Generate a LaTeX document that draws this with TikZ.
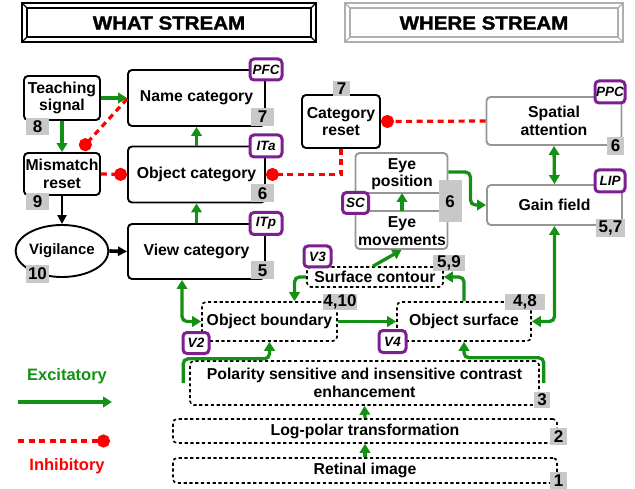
\documentclass[tikz,border=0pt]{standalone}
\usepackage{fontspec}
\setmainfont{Liberation Sans}
\newfontfamily\hdrfont[FakeBold=1.5]{Liberation Sans Bold}
\usetikzlibrary{arrows.meta,shapes.geometric}
\definecolor{grn}{RGB}{20,145,20}
\definecolor{purp}{RGB}{125,30,145}
\definecolor{numgray}{RGB}{200,200,200}
\definecolor{bordgray}{RGB}{150,150,150}
\definecolor{hdrgray}{RGB}{175,175,175}
\begin{document}
\begin{tikzpicture}[x=1pt,y=-1pt,
  box/.style={draw, line width=1.9pt, rounded corners=4pt, align=center, inner sep=0pt,
    font=\bfseries\fontsize{15.8}{17.5}\selectfont},
  gbox/.style={box, draw=bordgray},
  dbox/.style={box, dash pattern=on 3.2pt off 2.6pt, line width=1.6pt},
  badge/.style={draw=purp, line width=3pt, rounded corners=4pt, fill=white, inner sep=0pt,
    font=\bfseries\itshape\fontsize{13.5}{13.5}\selectfont},
  num/.style={fill=numgray, inner sep=0pt, font=\bfseries\fontsize{17}{17}\selectfont},
  exc/.style={draw=grn, line width=3.3pt, -{Triangle[length=9pt,width=10.5pt]}, rounded corners=5pt},
  excb/.style={exc, {Triangle[length=9pt,width=10.5pt]}-{Triangle[length=9pt,width=10.5pt]}},
  inh/.style={draw=red, line width=3.2pt, dash pattern=on 6pt off 4.5pt, -{Circle[length=13pt]}},
  blk/.style={draw=black, line width=2.6pt, -{Triangle[length=9pt,width=9pt]}},
  hdr/.style={font=\hdrfont\fontsize{19}{19}\selectfont}
]
\useasboundingbox (0,0) rectangle (635,489);

% headers
\draw[line width=1.4pt] (22,3) rectangle (316,42);
\draw[line width=1.2pt] (27,8) rectangle (311,37);
\draw[line width=1.2pt] (22,3) -- (27,8) (316,3) -- (311,8) (22,42) -- (27,37) (316,42) -- (311,37);
\node[hdr] (what) at (169,23) {\scalebox{1.08}[1]{WHAT STREAM}};
\draw[hdrgray, line width=1.4pt] (345,3) rectangle (623,42);
\draw[hdrgray, line width=1.2pt] (350,8) rectangle (618,37);
\draw[hdrgray, line width=1.2pt] (345,3) -- (350,8) (623,3) -- (618,8) (345,42) -- (350,37) (623,42) -- (618,37);
\node[hdr] (where) at (484,23) {\scalebox{1.08}[1]{WHERE STREAM}};

% what stream boxes
\node[box, minimum width=76pt, minimum height=44pt] (teach) at (62,98) {Teaching\\signal};
\node[box, minimum width=137pt, minimum height=56pt] (name) at (196.5,98) {Name category};
\node[box, minimum width=76pt, minimum height=42pt] (mism) at (62,174) {Mismatch\\reset};
\node[draw, ellipse, line width=1.9pt, minimum width=75pt, minimum height=52pt, inner sep=0pt,
  font=\bfseries\fontsize{15}{17.5}\selectfont] (vig) at (62,251) {Vigilance};
\node[box, minimum width=137pt, minimum height=56pt] (obj) at (196.5,174.5) {Object category};
\node[box, minimum width=137pt, minimum height=55pt] (view) at (196.5,251.5) {View category};
\node[box, minimum width=78pt, minimum height=53pt] (reset) at (341,121.5) {Category\\reset};

% where stream boxes
\node[gbox, minimum width=135pt, minimum height=48pt] (spat) at (554,121) {Spatial\\attention};
\node[gbox, minimum width=135pt, minimum height=40pt] (gain) at (554.5,205) {Gain field};
\node[gbox, minimum width=92pt, minimum height=96pt] (eye) at (401.5,201) {};
\node[font=\bfseries\fontsize{15.8}{17.5}\selectfont, align=center, inner sep=0pt] (eyepos) at (402,174) {Eye\\position};
\node[font=\bfseries\fontsize{15.8}{17.5}\selectfont, align=center, inner sep=0pt] (eyemov) at (402,231) {Eye\\movements};
\draw[bordgray, line width=1.9pt] (368,193) -- (440,193) (368,211) -- (440,211);

% low-level boxes
\node[dbox, minimum width=136pt, minimum height=20pt] (cont) at (375,277) {Surface contour};
\node[dbox, minimum width=135pt, minimum height=39pt] (bound) at (269.5,321.5) {Object boundary};
\node[dbox, minimum width=134pt, minimum height=39pt] (surf) at (464,321.5) {Object surface};
\node[dbox, minimum width=349pt, minimum height=44pt] (polar) at (364.5,383) {Polarity sensitive and insensitive contrast\\enhancement};
\node[dbox, minimum width=384pt, minimum height=24pt] (logp) at (365,431) {Log-polar transformation};
\node[dbox, minimum width=384pt, minimum height=25pt] (ret) at (365,470.5) {Retinal image};

% excitatory connections
\draw[exc] (teach.east) -- (name.west);
\draw[exc] (teach.south) -- (mism.north);
\draw[exc] (obj.north) -- (name.south);
\draw[exc] (view.north) -- (obj.south);
\draw[excb] (spat.south) -- (gain.north);
\draw[exc] ([yshift=-20pt]eye.north east) -- ++(22,0) |- (gain.west);
\coordinate (eb) at (402,211);
\coordinate (et) at (402,193);
\draw[exc] (eb) -- (et);
\draw[exc] ([xshift=-2pt]cont.north) -- (eye.south);
\draw[exc] (cont.west) -| ([xshift=25pt]bound.north);
\draw[exc] (surf.north) |- (cont.east);
\draw[exc] (bound.east) -- (surf.west);
\draw[excb] ([xshift=-14.5pt]view.south) |- (bound.west);
\draw[excb] (gain.south) |- (surf.east);
\draw[exc] ([xshift=-6pt]polar.west) |- ([yshift=-17pt]bound.south) -- (bound.south);
\draw[exc] ([xshift=4pt]polar.east) |- ([yshift=-16pt]surf.south) -- (surf.south);
\draw[exc] (logp.north) -- (polar.south);
\draw[exc] (ret.north) -- (logp.south);

% black connections
\draw[blk] (mism.south) -- (vig.north);
\draw[blk, line width=3.6pt] (vig.east) -- (view.west);

% inhibitory connections
\coordinate (inhend) at (81,149.5);
\draw[inh] ([yshift=-1pt]name.west) -- (inhend);
\draw[inh] (mism.east) -- (obj.west);
\draw[inh] (reset.south) |- (obj.east);
\draw[inh] (spat.west) -- (reset.east);

% badges
\node[badge, minimum width=32pt, minimum height=21pt] (pfc) at (266,69.5) {PFC};
\node[badge, minimum width=32pt, minimum height=22pt] (ita) at (266,146) {ITa};
\node[badge, minimum width=32pt, minimum height=22pt] (itp) at (266,223.5) {ITp};
\node[badge, minimum width=30pt, minimum height=22pt] (ppc) at (610,92) {PPC};
\node[badge, minimum width=30pt, minimum height=22pt] (lip) at (610,181) {LIP};
\node[badge, minimum width=26pt, minimum height=21pt] (sc) at (355.5,203) {SC};
\node[badge, minimum width=27pt, minimum height=21pt] (v3) at (317.5,256.5) {V3};
\node[badge, minimum width=26pt, minimum height=21pt] (v2) at (196,343) {V2};
\node[badge, minimum width=27pt, minimum height=22pt] (v4) at (392.5,341.5) {V4};

% number labels
\node[num, minimum width=23pt, minimum height=17pt] (n8) at (37.5,126.5) {8};
\node[num, minimum width=23pt, minimum height=18pt] (n7a) at (262.5,117) {7};
\node[num, minimum width=23pt, minimum height=17pt] (n9) at (37.5,201.5) {9};
\node[num, minimum width=23pt, minimum height=18pt] (n10) at (37.5,274) {10};
\node[num, minimum width=23pt, minimum height=18pt] (n6a) at (262.5,193.5) {6};
\node[num, minimum width=23pt, minimum height=18pt] (n5) at (262.5,270.5) {5};
\node[num, minimum width=17pt, minimum height=15pt] (n7b) at (341.5,89) {7};
\node[num, minimum width=17pt, minimum height=18pt] (n6b) at (615.5,146) {6};
\node[num, minimum width=29pt, minimum height=18pt] (n57) at (610.5,228) {5,7};
\node[num, minimum width=23pt, minimum height=42pt] (n6c) at (450,201.5) {6};
\node[num, minimum width=32pt, minimum height=16pt] (n59) at (449,263) {5,9};
\node[num, minimum width=34pt, minimum height=16pt] (n410) at (340,302) {4,10};
\node[num, minimum width=40pt, minimum height=16pt] (n48) at (525,302) {4,8};
\node[num, minimum width=16pt, minimum height=16pt] (n3) at (542,399.5) {3};
\node[num, minimum width=17pt, minimum height=17pt] (n2) at (558.5,436.5) {2};
\node[num, minimum width=17pt, minimum height=17pt] (n1) at (558.5,480.5) {1};

% legend
\node[font=\bfseries\fontsize{16.5}{16.5}\selectfont, text=grn] (lexc) at (67,376) {Excitatory};
\coordinate (la) at (18,402);
\coordinate (lb) at (112,402);
\draw[exc] (la) -- (lb);
\coordinate (lc) at (18,441);
\coordinate (ld) at (110,441);
\draw[inh] (lc) -- (ld);
\node[font=\bfseries\fontsize{16.5}{16.5}\selectfont, text=red] (linh) at (67,466) {Inhibitory};
\end{tikzpicture}
\end{document}
